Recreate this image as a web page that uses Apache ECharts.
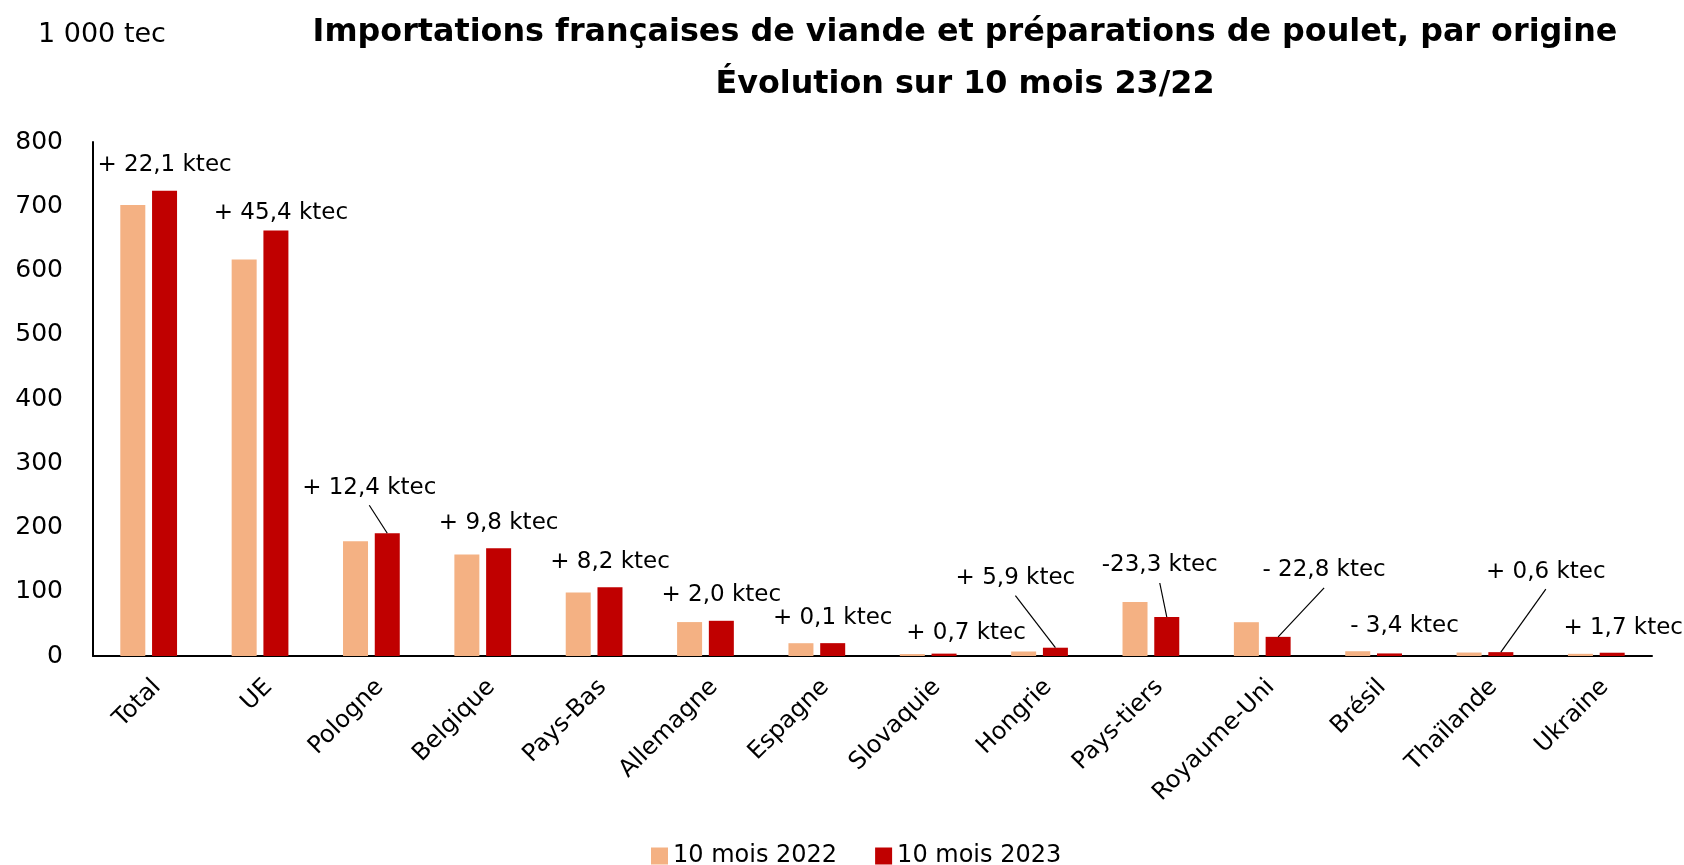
<!DOCTYPE html>
<html>
<head>
<meta charset="utf-8">
<script src="https://cdn.jsdelivr.net/npm/echarts@6/dist/echarts.min.js"></script>
<style>
  html, body { margin: 0; padding: 0; background: #fff; }
  #chart { width: 1684px; height: 865px; }
</style>
</head>
<body>
<div id="chart"></div>
<script>
// 1 000 tec, 10 first months of the year
const categories = ["Total", "UE", "Pologne", "Belgique", "Pays-Bas", "Allemagne", "Espagne",
  "Slovaquie", "Hongrie", "Pays-tiers", "Royaume-Uni", "Brésil", "Thaïlande", "Ukraine"];
const values2022 = [702.0, 617.0, 178.6, 157.8, 98.7, 52.8, 19.9, 3.0, 7.0, 84.0, 52.6, 7.4, 5.4, 3.4];
const values2023 = [724.1, 662.4, 191.0, 167.6, 106.9, 54.8, 20.0, 3.7, 12.9, 60.7, 29.8, 4.0, 6.0, 5.1];
const changeLabels = ["+ 22,1 ktec", "+ 45,4 ktec", "+ 12,4 ktec", "+ 9,8 ktec", "+ 8,2 ktec",
  "+ 2,0 ktec", "+ 0,1 ktec", "+ 0,7 ktec", "+ 5,9 ktec", "-23,3 ktec", "- 22,8 ktec",
  "- 3,4 ktec", "+ 0,6 ktec", "+ 1,7 ktec"];
const seriesNames = ["10 mois 2022", "10 mois 2023"];

// nudges for the change labels (px), and the ones that get a leader line
const labelShift = [[0, 0], [5, 8], [-18, -20], [0, 0], [0, 0], [0, 0], [0, 0],
  [22, 5], [-40, -44], [-7, -26], [46, -41], [15, -2], [45, -55], [11, 1]];
const withLine = [2, 8, 9, 10, 12];

const FONT = "DejaVu Sans";
const BAR_W = 25;
const BAR_GAP = 0.27;
const LABEL_DIST = 14;

const chart = echarts.init(document.getElementById("chart"));

// leader line: from just under the moved label down to the top centre of the 2023 bar
function renderLeader(params, api) {
  const i = api.value(0);
  const top = api.coord([i, api.value(1)]);
  const x = top[0] + (BAR_W * (1 + BAR_GAP)) / 2;
  const s = labelShift[i];
  return {
    type: "line",
    shape: { x1: x + s[0], y1: top[1] - LABEL_DIST + s[1] + 6, x2: x, y2: top[1] },
    style: { stroke: "#000", lineWidth: 1.2 }
  };
}

chart.setOption({
  animation: false,
  textStyle: { fontFamily: FONT, color: "#000" },
  title: [
    {
      text: "Importations françaises de viande et préparations de poulet, par origine\nÉvolution sur 10 mois 23/22",
      left: 960,
      top: 2,
      textAlign: "center",
      textStyle: { fontFamily: FONT, fontSize: 31.8, fontWeight: "bold", lineHeight: 52, color: "#000" }
    },
    {
      text: "1 000 tec",
      left: 33,
      top: 16,
      textStyle: { fontFamily: FONT, fontSize: 27, fontWeight: "normal", color: "#000" }
    }
  ],
  legend: {
    data: seriesNames,
    left: 646,
    top: 839,
    icon: "rect",
    itemWidth: 17,
    itemHeight: 17,
    itemGap: 38,
    textStyle: { fontFamily: FONT, fontSize: 24, color: "#000" }
  },
  grid: { left: 93, right: 32, top: 142, bottom: 209, containLabel: false, outerBoundsMode: "none" },
  xAxis: {
    type: "category",
    data: categories,
    axisLine: { lineStyle: { color: "#000", width: 2 } },
    axisTick: { show: false },
    axisLabel: {
      interval: 0,
      rotate: 45,
      verticalAlign: "top",
      margin: 19,
      fontSize: 24,
      color: "#000"
    }
  },
  yAxis: {
    type: "value",
    min: 0,
    max: 800,
    interval: 100,
    axisLine: { show: true, lineStyle: { color: "#000", width: 2 } },
    axisTick: { show: false },
    splitLine: { show: false },
    axisLabel: { fontSize: 25, color: "#000", margin: 30 }
  },
  series: [
    {
      name: seriesNames[0],
      type: "bar",
      data: values2022,
      barWidth: BAR_W,
      barGap: BAR_GAP * 100 + "%",
      itemStyle: { color: "#F4B183" }
    },
    {
      name: seriesNames[1],
      type: "bar",
      data: values2023,
      barWidth: BAR_W,
      barGap: BAR_GAP * 100 + "%",
      itemStyle: { color: "#C00000" },
      label: {
        show: true,
        position: "top",
        distance: LABEL_DIST,
        fontFamily: FONT,
        fontSize: 23,
        color: "#000",
        formatter: p => changeLabels[p.dataIndex]
      },
      labelLayout: p => ({ dx: labelShift[p.dataIndex][0], dy: labelShift[p.dataIndex][1] })
    },
    {
      type: "custom",
      z: 5,
      silent: true,
      data: withLine.map(i => [i, values2023[i]]),
      encode: { x: 0, y: 1 },
      renderItem: renderLeader
    }
  ]
});
</script>
</body>
</html>
